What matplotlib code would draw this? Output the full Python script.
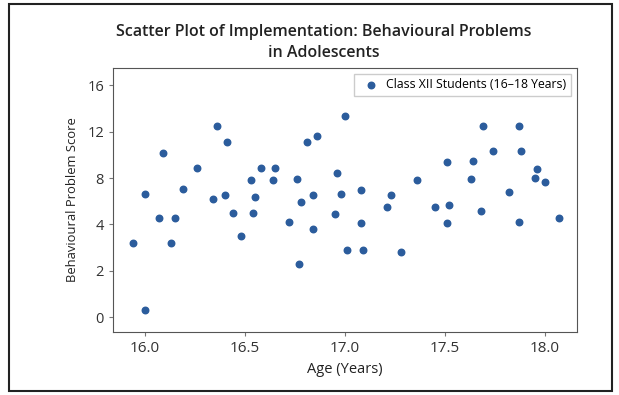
import matplotlib
matplotlib.use("Agg")
import matplotlib.pyplot as plt
import numpy as np
from matplotlib.patches import Rectangle

plt.rcParams['font.family'] = ['Open Sans', 'DejaVu Sans']

# ages (years) and behavioural problem scores
age = [15.94, 16.00, 16.00, 16.07, 16.09, 16.13, 16.15, 16.19, 16.26, 16.34,
       16.36, 16.40, 16.41, 16.44, 16.48, 16.53, 16.54, 16.55, 16.58, 16.65,
       16.64, 16.72, 16.76, 16.77, 16.78, 16.81, 16.84, 16.84, 16.86, 16.95,
       16.96, 16.98, 17.00, 17.01, 17.08, 17.08, 17.09, 17.21, 17.23, 17.28,
       17.36, 17.45, 17.51, 17.52, 17.51, 17.63, 17.64, 17.68, 17.69, 17.74,
       17.82, 17.87, 17.88, 17.87, 17.96, 17.95, 18.00, 18.07]
score = [3.2, 6.6, 0.3, 4.6, 10.2, 3.2, 4.6, 7.1, 8.9, 6.2,
         12.5, 6.5, 11.1, 5.0, 3.5, 7.8, 5.0, 6.4, 8.9, 8.9,
         7.8, 4.2, 7.9, 2.3, 5.9, 11.1, 6.5, 3.8, 11.6, 4.9,
         8.4, 6.6, 13.4, 2.9, 7.0, 4.1, 2.9, 5.5, 6.5, 2.8,
         7.8, 5.5, 9.4, 5.7, 4.1, 7.9, 9.5, 5.2, 12.5, 10.3,
         6.8, 12.5, 10.3, 4.2, 8.8, 8.0, 7.7, 4.6]

yticks = [0, 2, 4, 8, 12, 16]
xticks = [16.0, 16.5, 17.0, 17.5, 18.0]

# the y axis puts its ticks evenly although the labels are not
_vals = [-4, 0, 2, 4, 8, 12, 16, 24]
_idx = [-2, 0, 1, 2, 3, 4, 5, 7]

def fwd(v):
    return np.interp(v, _vals, _idx)

def inv(i):
    return np.interp(i, _idx, _vals)

fig = plt.figure(figsize=(6.19, 3.95), dpi=100)
ax = fig.add_axes([0.1826, 0.1595, 0.7495, 0.6683])

ax.scatter(age, score, s=22, color='#2b5c9c', zorder=3,
           label='Class XII Students (16\u201318 Years)')

ax.set_yscale('function', functions=(fwd, inv))
ax.set_ylim(-0.64, 17.5)
ax.set_yticks(yticks)
ax.set_yticklabels([str(t) for t in yticks])
ax.minorticks_off()
ax.set_xlim(15.84, 18.16)
ax.set_xticks(xticks)
ax.set_xticklabels(['%.1f' % t for t in xticks])

for sp in ax.spines.values():
    sp.set_color('#555555')
ax.tick_params(axis='x', colors='#333333', labelsize=11, length=3, color='#777777')
ax.tick_params(axis='y', colors='#333333', labelsize=10.5, length=3, color='#777777')

ax.set_xlabel('Age (Years)', fontsize=10.5, color='#222222', labelpad=4)
ax.set_ylabel('Behavioural Problem Score', fontsize=9.4, color='#222222', labelpad=6)
ax.set_title('Scatter Plot of Implementation: Behavioural Problems\nin Adolescents',
             fontsize=11.5, fontweight='semibold', color='#222222', x=0.455, pad=8,
             linespacing=1.4)

ax.legend(loc='upper right', fontsize=8.8, frameon=True, framealpha=1,
          edgecolor='#cccccc', handletextpad=0.3, borderpad=0.35,
          borderaxespad=0.5, fancybox=False)

# dark frame round the picture
fig.patches.append(Rectangle((9 / 619, 4 / 395), 603 / 619, 387 / 395,
                             transform=fig.transFigure, fill=False,
                             edgecolor='#222222', linewidth=1.5))

fig.savefig('out.png', dpi=100)
